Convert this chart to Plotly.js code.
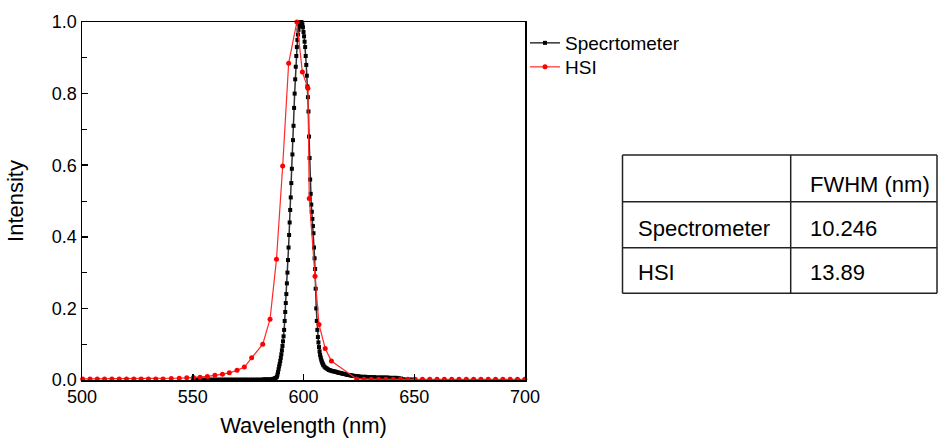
<!DOCTYPE html>
<html>
<head>
<meta charset="utf-8">
<script src="https://cdn.plot.ly/plotly-3.0.1.min.js"></script>
<style>html,body{margin:0;padding:0;background:#fff;}#chart{width:940px;height:438px;}</style>
</head>
<body>
<div id="chart"></div>
<script>
// ---- Data ----
const seriesNames = ["Specrtometer", "HSI"];

const specWl = [550,551,552,553,554,555,556,557,558,559,560,561,562,563,564,565,566,567,568,569,570,571,572,573,574,575,576,577,578,579,580,
  581,582,583,584,585,586,587,587.5,588,588.25,588.5,588.75,589,589.25,589.5,589.75,590,590.25,590.5,590.75,591,591.25,591.5,591.75,
  592,592.25,592.5,592.75,593,593.25,593.5,593.75,594,594.25,594.5,594.75,595,595.25,595.5,595.75,596,596.25,596.5,596.75,
  597,597.25,597.5,597.75,598,598.25,598.5,598.75,599,599.25,599.5,599.75,600,600.25,600.5,600.75,601,601.25,601.5,601.75,
  602,602.25,602.5,602.75,603,603.25,603.5,603.75,604,604.25,604.5,604.75,605,605.25,605.5,605.75,606,606.25,606.5,606.75,
  607,607.25,607.5,607.75,608,608.25,608.5,608.75,609,609.5,610,610.5,611,611.5,612,612.5,613,613.5,614,614.5,615,615.5,
  616,616.5,617,617.5,618,618.5,619,619.5,620,620.5,621,621.5,622,622.5,623,623.5,624,624.5,625,
  626,627,628,629,630,631,632,633,634,635,636,637,638,639,640,641,642,643,644,645,646,647,648,649,650];
const specI = [0.001,0.001,0.001,0.001,0.001,0.001,0.001,0.001,0.001,0.001,0.001,0.001,0.001,0.001,0.001,0.001,0.001,0.001,0.001,0.001,0.001,0.001,0.001,0.001,0.001,0.001,0.001,0.001,0.001,0.001,0.001,
  0.001,0.002,0.002,0.002,0.002,0.003,0.005,0.006,0.009,0.015,0.022,0.03,0.038,0.045,0.053,0.062,0.072,0.083,0.095,0.108,0.122,0.14,0.165,0.19,
  0.215,0.24,0.27,0.30,0.335,0.37,0.405,0.44,0.475,0.51,0.55,0.59,0.63,0.67,0.71,0.76,0.80,0.84,0.875,0.905,
  0.93,0.95,0.965,0.978,0.988,0.995,1.0,1.0,1.0,0.998,0.993,0.985,0.972,0.96,0.945,0.93,0.905,0.88,0.85,0.82,
  0.79,0.75,0.68,0.62,0.56,0.52,0.49,0.47,0.45,0.43,0.41,0.37,0.34,0.31,0.255,0.20,0.165,0.14,0.12,0.105,
  0.092,0.08,0.07,0.063,0.057,0.052,0.048,0.044,0.041,0.037,0.034,0.032,0.03,0.028,0.027,0.026,0.025,0.024,0.024,0.023,0.022,0.021,
  0.02,0.02,0.019,0.018,0.017,0.017,0.016,0.015,0.014,0.014,0.013,0.013,0.012,0.012,0.011,0.011,0.01,0.01,0.01,
  0.009,0.009,0.009,0.008,0.008,0.008,0.008,0.007,0.007,0.007,0.007,0.007,0.007,0.006,0.006,0.006,0.006,0.005,0.004,0.002,0.001,0.001,0.001,0.001,0.001];

const hsiWl = [500.3,503.6,506.9,510.2,513.5,516.8,520.1,523.4,526.7,530.0,533.3,536.6,540.3,543.9,547.3,550.3,553.3,556.6,560.0,563.4,566.5,570.0,573.3,576.6,
  581.6,584.9,587.8,590.6,593.3,597.0,599.5,602.0,602.6,605.2,607.0,609.8,612.6,
  624.0,627.3,630.6,633.9,637.2,640.5,643.8,647.1,650.4,653.7,657.0,660.3,663.6,666.9,670.2,673.5,676.8,680.1,683.4,686.7,690.0,693.3,696.6,699.9];
const hsiI = [0.003,0.003,0.003,0.003,0.003,0.003,0.003,0.003,0.003,0.003,0.003,0.003,0.004,0.005,0.006,0.007,0.008,0.010,0.013,0.016,0.020,0.027,0.036,0.062,
  0.10,0.17,0.337,0.598,0.885,1.0,0.86,0.815,0.507,0.29,0.155,0.088,0.053,
  0.003,0.002,0.002,0.002,0.002,0.002,0.002,0.002,0.002,0.002,0.002,0.002,0.002,0.002,0.002,0.002,0.002,0.002,0.002,0.002,0.002,0.002,0.002,0.002];

const xTicks = [500, 550, 600, 650, 700];
const yTicks = [0, 0.2, 0.4, 0.6, 0.8, 1.0];

const tableHeader = ["", "FWHM (nm)"];
const tableRowNames = ["Spectrometer", "HSI"];
const tableValues = ["10.246", "13.89"];

// ---- Layout helpers ----
const W = 940, H = 438;
const M = {l: 82, r: 415, t: 22, b: 58};
const pw = W - M.l - M.r, ph = H - M.t - M.b;
const px = v => (v - M.l) / pw;       // pixel x -> paper x
const py = v => (H - M.b - v) / ph;   // pixel y -> paper y

const FONT = "Liberation Sans, Arial, sans-serif";

const traces = [
  {x: specWl, y: specI, name: seriesNames[0], type: "scatter", mode: "lines+markers", legend: "legend",
   line: {color: "#333333", width: 1.5}, marker: {symbol: "square", size: 4, color: "#000000"}, cliponaxis: false},
  {x: hsiWl, y: hsiI, name: seriesNames[1], type: "scatter", mode: "lines+markers", legend: "legend2",
   line: {color: "#ff2a2a", width: 1.2}, marker: {symbol: "circle", size: 5, color: "#ff0000"}, cliponaxis: false}
];

// table geometry (pixels)
const tL = 622.5, tD = 790.7, tR = 937, rowsY = [155, 201.7, 247.7, 293.3];
const lineStyle = {color: "#222222", width: 1.5};
const shapes = [];
rowsY.forEach(yy => shapes.push({type: "line", xref: "paper", yref: "paper", x0: px(tL), x1: px(tR), y0: py(yy), y1: py(yy), line: lineStyle}));
[tL, tD, tR].forEach(xx => shapes.push({type: "line", xref: "paper", yref: "paper", x0: px(xx), x1: px(xx), y0: py(rowsY[0]), y1: py(rowsY[3]), line: lineStyle}));

const annotations = [];
const tf = {family: FONT, size: 22, color: "#000"};
const textX1 = 636, textX2 = 808;
const rowText = [184, 228, 272];
annotations.push({xref: "paper", yref: "paper", x: px(textX2), y: py(rowText[0]), text: tableHeader[1], showarrow: false, xanchor: "left", yanchor: "middle", font: tf});
tableRowNames.forEach((n, i) => {
  annotations.push({xref: "paper", yref: "paper", x: px(textX1), y: py(rowText[i+1]), text: n, showarrow: false, xanchor: "left", yanchor: "middle", font: tf});
  annotations.push({xref: "paper", yref: "paper", x: px(textX2), y: py(rowText[i+1]), text: tableValues[i], showarrow: false, xanchor: "left", yanchor: "middle", font: tf});
});

const legendCommon = {xanchor: "left", yanchor: "top", bgcolor: "rgba(0,0,0,0)",
  font: {family: FONT, size: 19, color: "#000"}, itemwidth: 30, tracegroupgap: 0};

const layout = {
  width: W, height: H,
  margin: M,
  paper_bgcolor: "#fff", plot_bgcolor: "#fff",
  font: {family: FONT, size: 18, color: "#000"},
  showlegend: true,
  legend: Object.assign({x: px(525), y: py(24)}, legendCommon),
  legend2: Object.assign({x: px(525), y: py(48)}, legendCommon),
  xaxis: {range: [500, 700], tickvals: xTicks, ticktext: xTicks.map(String), ticks: "inside", ticklen: 6, tickwidth: 1.5, tickcolor: "#000",
          showline: true, linecolor: "#000", linewidth: 1.5, mirror: true, showgrid: false, zeroline: false,
          tickfont: {family: FONT, size: 18, color: "#000"},
          title: {text: "Wavelength (nm)", font: {family: FONT, size: 22, color: "#000"}, standoff: 11}},
  yaxis: {range: [0, 1], tickvals: yTicks, ticktext: yTicks.map(v => v.toFixed(1)), ticks: "inside", ticklen: 6, tickwidth: 1.5, tickcolor: "#000",
          minor: {dtick: 0.1, tick0: 0, ticks: "inside", ticklen: 5, tickwidth: 1, tickcolor: "#000"},
          showline: true, linecolor: "#000", linewidth: 1.5, mirror: true, showgrid: false, zeroline: false,
          tickfont: {family: FONT, size: 18, color: "#000"},
          title: {text: "Intensity", font: {family: FONT, size: 22, color: "#000"}, standoff: 22}},
  shapes: shapes,
  annotations: annotations
};

Plotly.newPlot("chart", traces, layout, {displayModeBar: false, staticPlot: true});
</script>
</body>
</html>
